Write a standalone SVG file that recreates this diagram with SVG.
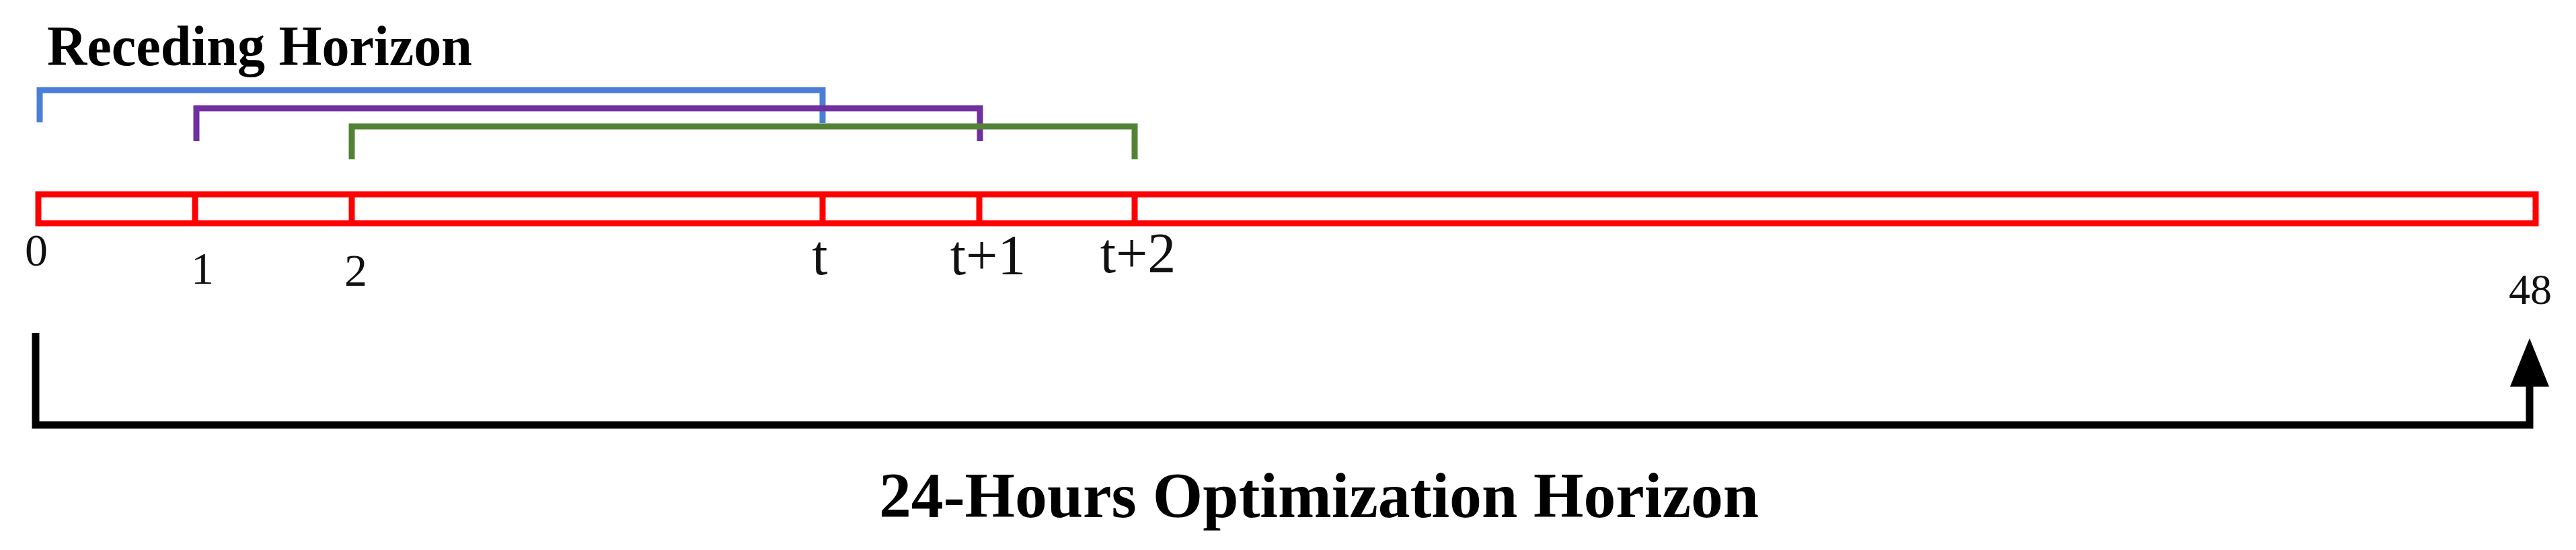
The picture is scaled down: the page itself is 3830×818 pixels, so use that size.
<svg xmlns="http://www.w3.org/2000/svg" width="3830" height="818" viewBox="0 0 3830 818">
<style>
  .lbl { font-family: "Liberation Serif", "Times New Roman", serif; fill: #111; text-anchor: middle; }
  .bold { font-family: "Liberation Serif", "Times New Roman", serif; font-weight: bold; fill: #000; }
  .br { fill: none; stroke-width: 9; stroke-linecap: butt; stroke-linejoin: miter; }
  .red { stroke: #FF0000; stroke-width: 9; fill: none; }
</style>
<rect width="3830" height="818" fill="#ffffff"/>

<g id="receding-title">
  <text class="bold" x="70" y="97" font-size="84" textLength="632" lengthAdjust="spacingAndGlyphs">Receding Horizon</text>
</g>

<g id="horizon-0">
  <path class="br" stroke="#4A7ED8" d="M59,182 V134 H1223 V183"/>
</g>
<g id="horizon-1">
  <path class="br" stroke="#7030A0" d="M292,210 V161 H1457 V210"/>
</g>
<g id="horizon-2">
  <path class="br" stroke="#548235" d="M523,237 V188 H1687 V237"/>
</g>

<g id="timeline">
  <rect class="red" x="57" y="289" width="3713" height="43"/>
  <line class="red" x1="290" y1="289" x2="290" y2="332"/>
  <line class="red" x1="523" y1="289" x2="523" y2="332"/>
  <line class="red" x1="1223" y1="289" x2="1223" y2="332"/>
  <line class="red" x1="1456" y1="289" x2="1456" y2="332"/>
  <line class="red" x1="1687" y1="289" x2="1687" y2="332"/>
</g>

<g id="tick-labels">
  <text class="lbl" x="54" y="395" font-size="68">0</text>
  <text class="lbl" x="301" y="422" font-size="68">1</text>
  <text class="lbl" x="529" y="425" font-size="68">2</text>
  <text class="lbl" x="1219" y="408" font-size="84">t</text>
  <text class="lbl" x="1469" y="408" font-size="84">t+1</text>
  <text class="lbl" x="1692" y="405" font-size="84">t+2</text>
  <text class="lbl" x="3762" y="452" font-size="64">48</text>
</g>

<g id="connectors">
  <path d="M53,495 V632 H3761 V570" fill="none" stroke="#000" stroke-width="11" stroke-linejoin="miter"/>
  <polygon points="3761,503 3732,575 3790,575" fill="#000"/>
</g>

<g id="optimization-title">
  <text class="bold" x="1307" y="769" font-size="96" textLength="1308" lengthAdjust="spacingAndGlyphs">24-Hours Optimization Horizon</text>
</g>
</svg>
